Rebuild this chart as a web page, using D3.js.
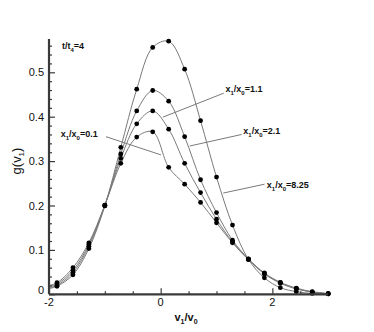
<!DOCTYPE html>
<html>
<head>
<meta charset="utf-8">
<script src="https://cdn.jsdelivr.net/npm/d3@7/dist/d3.min.js"></script>
<style>
  html, body { margin: 0; padding: 0; background: #fff; }
  svg text { font-family: "Liberation Sans", Arial, Helvetica, sans-serif; }
</style>
</head>
<body>
<svg id="chart" width="374" height="332"></svg>
<script>
// ---- data ----
const xGrid = [-1.857, -1.571, -1.286, -1.0, -0.714, -0.429, -0.143, 0.143, 0.429, 0.714, 1.0, 1.286, 1.571, 1.857, 2.143, 2.429, 2.714, 3.0];
const seriesNames = ["8.25", "2.1", "1.1", "0.1"];
const valuesR825 = [0.018, 0.044, 0.103, 0.199, 0.331, 0.462, 0.556, 0.570, 0.507, 0.391, 0.264, 0.156, 0.079, 0.037, 0.015, 0.006, 0.002, 0.001];
const valuesR21  = [0.020, 0.049, 0.108, 0.200, 0.316, 0.413, 0.459, 0.435, 0.355, 0.258, 0.184, 0.122, 0.080, 0.048, 0.027, 0.014, 0.006, 0.002];
const valuesR11  = [0.023, 0.054, 0.112, 0.200, 0.306, 0.384, 0.413, 0.372, 0.295, 0.229, 0.169, 0.118, 0.079, 0.047, 0.026, 0.013, 0.005, 0.001];
const valuesR01  = [0.026, 0.060, 0.116, 0.201, 0.295, 0.354, 0.366, 0.286, 0.248, 0.207, 0.161, 0.116, 0.078, 0.046, 0.025, 0.012, 0.005, 0.001];
const lineStartX = -2;
const lineStartValues = [0.013, 0.015, 0.017, 0.020];
const xMajorTicks = [-2, 0, 2];
const xTickLabels = ["-2", "0", "2"];
const xMinorTicks = [-1.5, -1, -0.5, 0.5, 1, 1.5, 2.5];
const yMajorTicks = [0, 0.1, 0.2, 0.3, 0.4, 0.5];
const yTickLabels = ["0", "0.1", "0.2", "0.3", "0.4", "0.5"];
// annotation labels: ratio, label anchor (data units), leader start, leader end
const annotRatios = ["0.1", "1.1", "2.1", "8.25"];
const annotLabelX = [-1.79, 1.16, 1.48, 1.9];
const annotLabelY = [0.354, 0.455, 0.362, 0.24];
const leaderFrom = [[-0.98, 0.355], [1.13, 0.453], [1.45, 0.36], [1.86, 0.248]];
const leaderTo   = [[0.005, 0.314], [0.04, 0.399], [0.52, 0.334], [1.12, 0.228]];

const seriesValues = [valuesR825, valuesR21, valuesR11, valuesR01];

// ---- scales ----
const svg = d3.select("#chart");
const x = d3.scaleLinear().domain([-2, 3]).range([49, 328.2]);
const y = d3.scaleLinear().domain([0, 0.575]).range([294.3, 39]);

const axisColor = "#3a3a3a";
const lineColor = "#7a7a7a";

// ---- curves ----
const line = d3.line().x(d => x(d[0])).y(d => y(d[1])).curve(d3.curveCatmullRom.alpha(0.5));
seriesValues.forEach((vals, i) => {
  const pts = [[lineStartX, lineStartValues[i]]].concat(xGrid.map((xv, j) => [xv, vals[j]]));
  svg.append("path").attr("d", line(pts)).attr("fill", "none")
    .attr("stroke", lineColor).attr("stroke-width", 1);
});

// ---- leader lines ----
leaderFrom.forEach((f, i) => {
  svg.append("line")
    .attr("x1", x(f[0])).attr("y1", y(f[1]))
    .attr("x2", x(leaderTo[i][0])).attr("y2", y(leaderTo[i][1]))
    .attr("stroke", lineColor).attr("stroke-width", 1);
});

// ---- markers ----
seriesValues.forEach(vals => {
  svg.append("g").selectAll("circle").data(xGrid.map((xv, j) => [xv, vals[j]]))
    .join("circle").attr("cx", d => x(d[0])).attr("cy", d => y(d[1]))
    .attr("r", 2.4).attr("fill", "#000");
});

// ---- axes ----
const xAxisG = svg.append("g").attr("transform", `translate(0,${y(0)})`);
xAxisG.call(d3.axisTop(x).tickValues(xMajorTicks).tickSize(6).tickFormat(""));
xAxisG.append("g").call(d3.axisTop(x).tickValues(xMinorTicks).tickSize(3).tickFormat(""));
xAxisG.selectAll(".domain").remove();
xAxisG.selectAll("line").attr("stroke", axisColor).attr("stroke-width", 1.2);
xMajorTicks.forEach((t, i) => {
  svg.append("text").attr("x", x(t)).attr("y", y(0) + 12).attr("text-anchor", "middle")
    .attr("font-size", 11).attr("fill", "#111").text(xTickLabels[i]);
});

const yAxisG = svg.append("g").attr("transform", `translate(${x(-2)},0)`);
yAxisG.call(d3.axisRight(y).tickValues(yMajorTicks).tickSize(6).tickFormat(""));
yAxisG.append("g").call(d3.axisRight(y).tickValues(d3.range(0.02, 0.575, 0.02).filter(v => Math.abs(v * 10 - Math.round(v * 10)) > 1e-6)).tickSize(3).tickFormat(""));
yAxisG.selectAll(".domain").remove();
yAxisG.selectAll("line").attr("stroke", axisColor).attr("stroke-width", 1.2);
yMajorTicks.forEach((t, i) => {
  svg.append("text").attr("x", x(-2) - 5).attr("y", y(t) + (t === 0 ? 0 : 4)).attr("text-anchor", "end")
    .attr("font-size", 11).attr("fill", "#111").text(yTickLabels[i]);
});

// axis lines
svg.append("line").attr("x1", x(-2)).attr("x2", x(3)).attr("y1", y(0)).attr("y2", y(0))
  .attr("stroke", axisColor).attr("stroke-width", 2.2);
svg.append("line").attr("x1", x(-2)).attr("x2", x(-2)).attr("y1", y(0)).attr("y2", y(0.575))
  .attr("stroke", axisColor).attr("stroke-width", 2.2);

// ---- titles ----
const xt = svg.append("text").attr("x", 186).attr("y", 321).attr("text-anchor", "middle")
  .attr("font-size", 11).attr("font-weight", "bold").attr("fill", "#111");
xt.append("tspan").text("v");
xt.append("tspan").attr("font-size", 7).attr("dy", 3).text("1");
xt.append("tspan").attr("dy", -3).text("/v");
xt.append("tspan").attr("font-size", 7).attr("dy", 3).text("0");

const yt = svg.append("text").attr("transform", "translate(21,161) rotate(-90)").attr("text-anchor", "middle")
  .attr("font-size", 13).attr("fill", "#111");
yt.append("tspan").text("g(v");
yt.append("tspan").attr("font-size", 8).attr("dy", 3).text("1");
yt.append("tspan").attr("dy", -3).text(")");

const tt = svg.append("text").attr("x", 62).attr("y", 49).attr("font-size", 9)
  .attr("font-weight", "bold").attr("fill", "#111");
tt.append("tspan").text("t/t");
tt.append("tspan").attr("font-size", 6).attr("dy", 3).text("4");
tt.append("tspan").attr("dy", -3).text("=4");

annotRatios.forEach((r, i) => {
  const t = svg.append("text").attr("x", x(annotLabelX[i])).attr("y", y(annotLabelY[i]))
    .attr("font-size", 9).attr("font-weight", "bold").attr("fill", "#111");
  t.append("tspan").text("x");
  t.append("tspan").attr("font-size", 6).attr("dy", 3).text("1");
  t.append("tspan").attr("dy", -3).text("/x");
  t.append("tspan").attr("font-size", 6).attr("dy", 3).text("0");
  t.append("tspan").attr("dy", -3).text("=" + r);
});
</script>
</body>
</html>
